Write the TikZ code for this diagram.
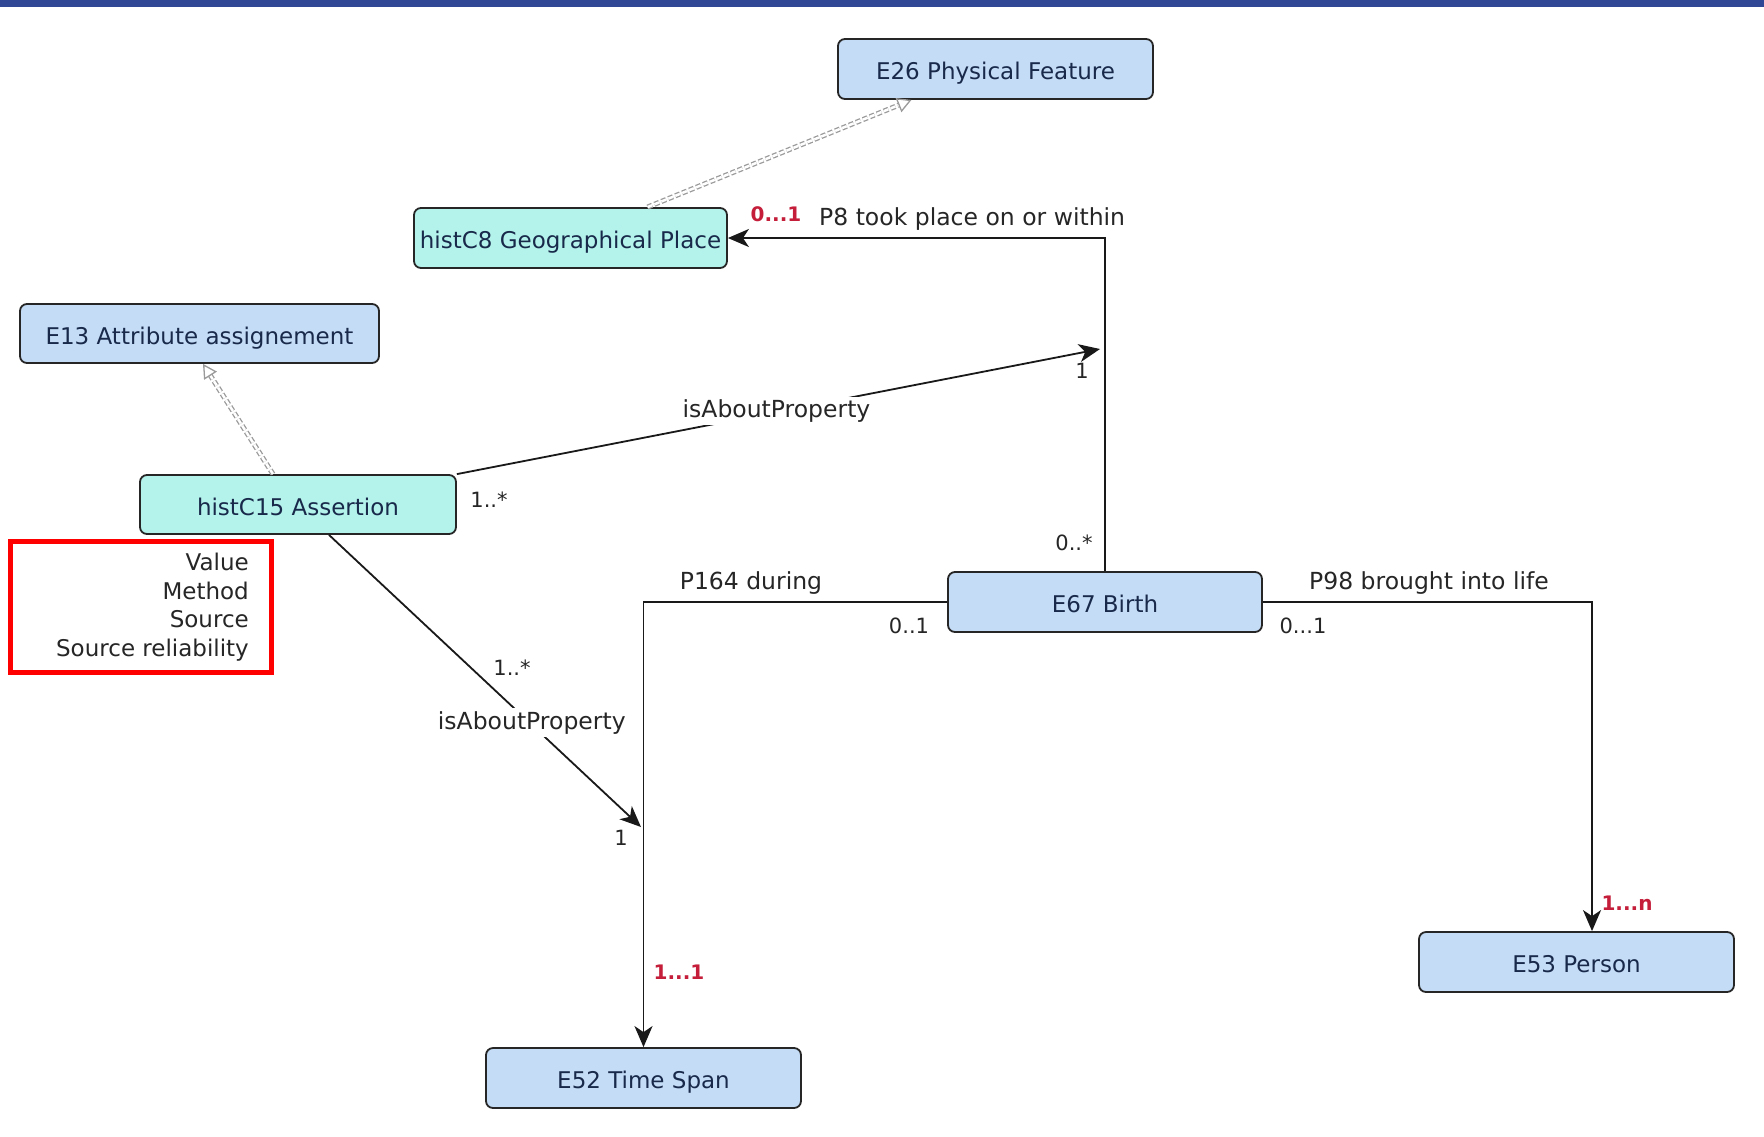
\documentclass[tikz,border=0pt]{standalone}
\usepackage{fontspec}
\setmainfont{DejaVu Sans}
\usetikzlibrary{arrows.meta}
\definecolor{boxblue}{HTML}{C4DCF6}
\definecolor{boxcyan}{HTML}{B4F3EC}
\definecolor{navy}{HTML}{18294A}
\definecolor{band}{HTML}{2F4795}
\definecolor{mult}{HTML}{C41E3A}
\definecolor{genline}{HTML}{9A9A9A}
\tikzset{
  cls/.style={draw=black!85, line width=1.8pt, rounded corners=7pt, inner sep=0pt,
    minimum width=315pt, minimum height=60pt, text=navy, text height=21.5pt, text depth=0pt,
    font=\fontsize{23}{26}\selectfont},
  bluecls/.style={cls, fill=boxblue},
  cyancls/.style={cls, fill=boxcyan},
  assoc/.style={draw=black!90, line width=1.8pt, -{Stealth[length=21pt,width=18pt,inset=6pt]}},
  gen/.style={draw=genline, line width=1.3pt, dash pattern=on 5pt off 2.5pt, double=white, double distance=2.5pt,
    -{Triangle[open,length=14pt,width=15pt]}},
  lbl/.style={inner sep=1pt, text=black!85, font=\fontsize{23.5}{27}\selectfont},
  multlbl/.style={inner sep=1pt, text=black!85, font=\fontsize{21}{24}\selectfont},
  redmult/.style={inner sep=1pt, text=mult, font=\fontsize{20}{24}\selectfont\bfseries},
}
\begin{document}
\begin{tikzpicture}[x=1pt,y=-1pt]
\useasboundingbox (0,0) rectangle (1764,1136);
\fill[white] (0,0) rectangle (1764,1136);
\fill[band] (0,0) rectangle (1764,7);

% classes
\node[bluecls, minimum width=315pt] (e26) at (995.5,69) {E26 Physical Feature};
\node[cyancls, minimum width=313pt] (hc8) at (570.5,238) {histC8 Geographical Place};
\node[bluecls, minimum width=359pt, minimum height=59pt] (e13) at (199.5,333.5) {E13 Attribute assignement};
\node[cyancls, minimum width=316pt, minimum height=59pt] (hc15) at (298,504.5) {histC15 Assertion};
\node[bluecls, minimum width=314pt] (e67) at (1105,602) {E67 Birth};
\node[bluecls, minimum width=315pt] (e53) at (1576.5,962) {E53 Person};
\node[bluecls, minimum width=315pt] (e52) at (643.5,1078) {E52 Time Span};

% attribute box
\node[draw=red, line width=5pt, minimum width=261pt, minimum height=131pt, inner sep=0pt] (attr) at (140.5,606.5) {};
\node[anchor=east, align=right, text=black!85, inner sep=0pt,
  font=\fontsize{23}{28.5}\selectfont] (attrtxt) at (249,607)
  {Value\\Method\\Source\\Source reliability};

% generalizations
\draw[gen] ([xshift=77pt]hc8.north) -- ([xshift=-84pt]e26.south);
\draw[gen] ([xshift=-25pt]hc15.north) -- ([xshift=3.5pt]e13.south);

% P8
\draw[assoc] (e67.north) |- (hc8.east);
\node[redmult] (m1) at (776,214) {0...1};
\node[lbl] (p8) at (818,219) [anchor=west] {P8 took place on or within};
\node[multlbl] (m2) at (1074,543) {0..*};

% upper isAboutProperty
\coordinate (p8pt) at (1100,349);
\draw[assoc] (hc15.north east) -- node[pos=0.497, fill=white, lbl, inner sep=3pt, yshift=1pt] (iap1) {isAboutProperty} (p8pt);
\node[multlbl] (m3) at (1082,371) {1};
\node[multlbl] (m4) at (489,500) {1..*};

% lower isAboutProperty
\coordinate (p164pt) at (641,827);
\draw[assoc] ([xshift=31pt]hc15.south) -- node[pos=0.65, fill=white, lbl, inner sep=3pt, yshift=2pt] (iap2) {isAboutProperty} (p164pt);
\node[multlbl] (m5) at (512,668) {1..*};
\node[multlbl] (m6) at (621,838) {1};

% P164 during
\draw[assoc] (e67.west) -| (e52.north);
\node[lbl] (p164) at (751,583) {P164 during};
\node[multlbl] (m7) at (909,626) {0..1};
\node[redmult] (m8) at (679,972) {1...1};

% P98 brought into life
\draw[assoc] (e67.east) -| ([xshift=15.5pt]e53.north);
\node[lbl] (p98) at (1429,583) {P98 brought into life};
\node[multlbl] (m9) at (1303,626) {0...1};
\node[redmult] (m10) at (1627,903) {1...n};
\end{tikzpicture}
\end{document}
